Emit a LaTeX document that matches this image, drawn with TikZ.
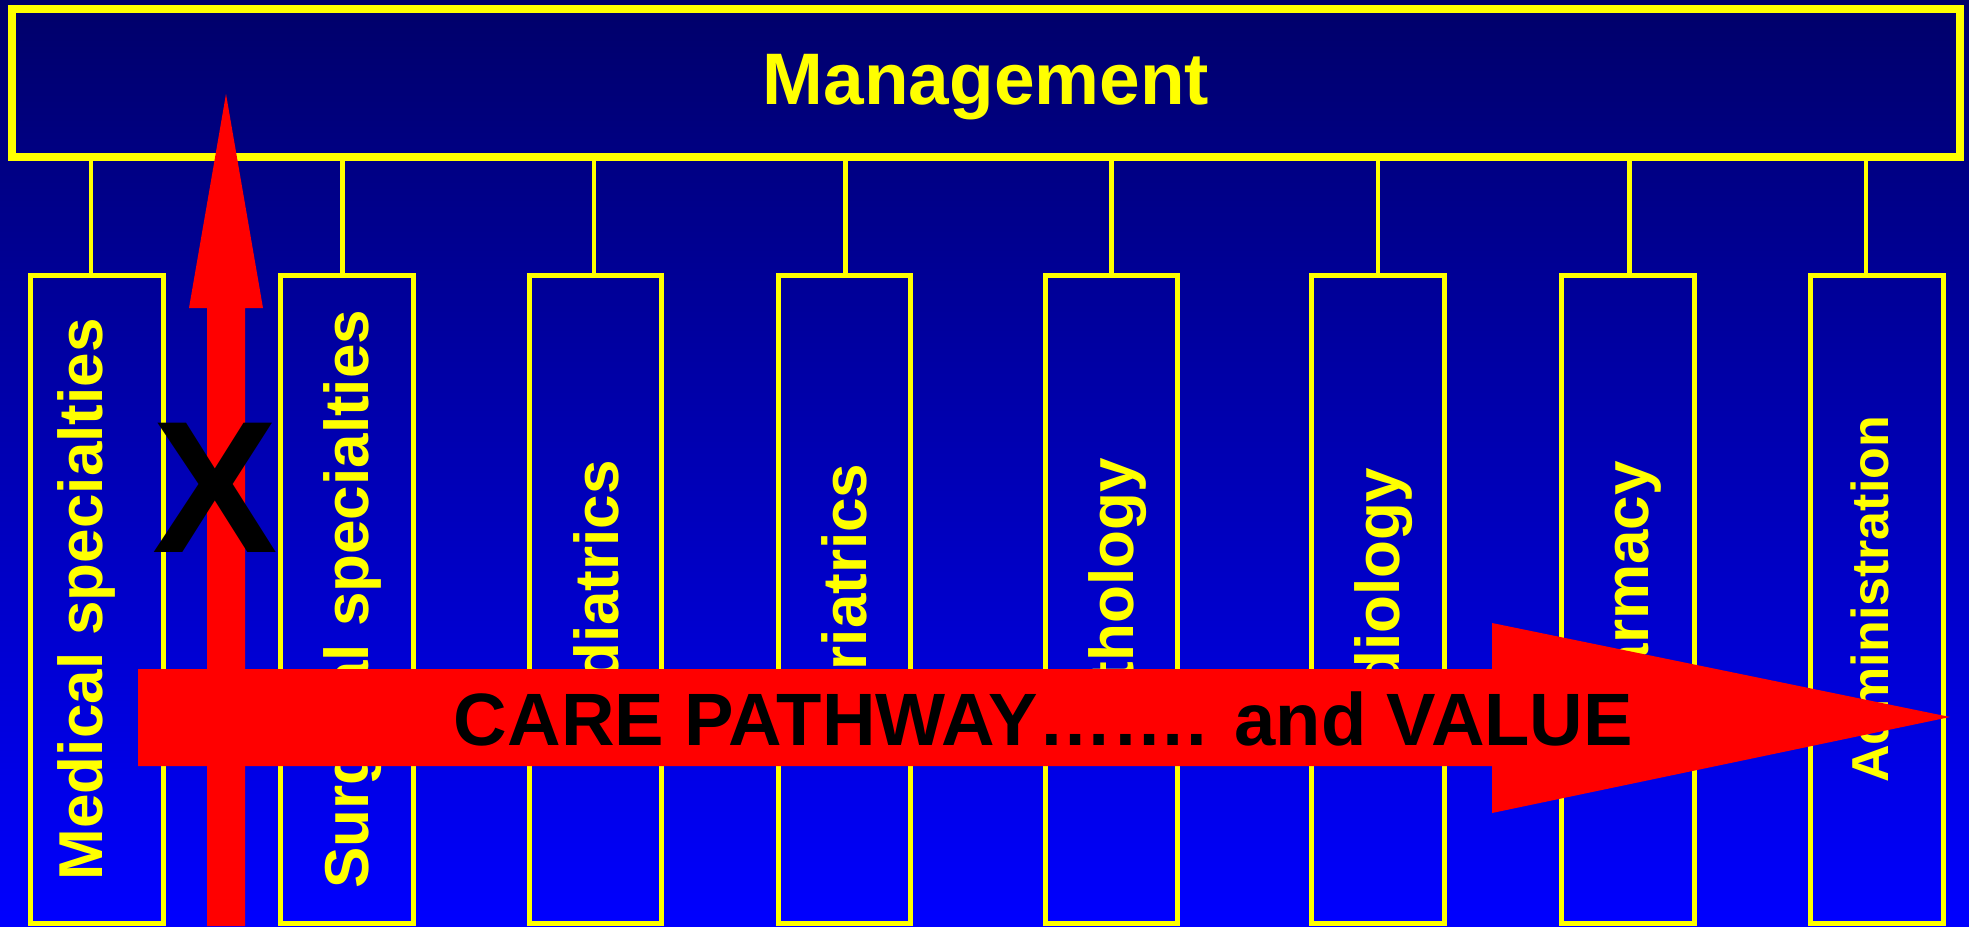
\documentclass[tikz,border=0pt]{standalone}
\usepackage{fontspec}
\setmainfont{Liberation Sans}
\usepackage{tikz}
\usepackage{xcolor}
\usetikzlibrary{positioning}
\definecolor{navytop}{RGB}{0,0,105}
\definecolor{bluebottom}{RGB}{0,0,255}
\definecolor{linkyellow}{RGB}{255,255,0}
\definecolor{pathred}{RGB}{255,0,0}
\tikzstyle{mgmt} = [rectangle, draw=linkyellow, line width=7.5pt, outer sep=0pt, minimum width=1948pt, minimum height=148pt, text depth=7pt, text=linkyellow, font=\fontsize{73}{73}\selectfont\bfseries]
\tikzstyle{deptbox} = [rectangle, draw=linkyellow, line width=5pt, outer sep=0pt, minimum width=132.5pt, minimum height=647.5pt]
\tikzstyle{dept} = [rotate=90, anchor=base, inner sep=0pt, text=linkyellow, font=\fontsize{62}{62}\selectfont\bfseries]
\tikzstyle{link} = [draw=linkyellow, line width=4.5pt]
\tikzstyle{bigarrow} = [fill=pathred]

\begin{document}
\begin{tikzpicture}[x=1pt, y=-1pt, node distance=117pt]

% Background
\shade[top color=navytop, bottom color=bluebottom] (0,0) rectangle (1969,926);
\useasboundingbox (0,0) rectangle (1969,926);

% Management - top
\node (mgmt) [mgmt] at (986,83) {Management};

% Departments - bottom row
\node (med) [deptbox] at (96.75,599.25) {};
\node (surg) [deptbox, right=117.5pt of med] {};
\node (paed) [deptbox, right=116pt of surg] {};
\node (geri) [deptbox, right=116.5pt of paed] {};
\node (path) [deptbox, right=134.5pt of geri] {};
\node (radi) [deptbox, right=134pt of path] {};
\node (pharm) [deptbox, right=117.5pt of radi] {};
\node (admin) [deptbox, right=116.5pt of pharm] {};

% Links up to management
\draw [link] ([xshift=-5.75pt]med.north) -- ([xshift=-5.75pt]med.north |- mgmt.south);
\draw [link] ([xshift=-4.25pt]surg.north) -- ([xshift=-4.25pt]surg.north |- mgmt.south);
\draw [link] ([xshift=-1.25pt]paed.north) -- ([xshift=-1.25pt]paed.north |- mgmt.south);
\draw [link] ([xshift=1.25pt]geri.north) -- ([xshift=1.25pt]geri.north |- mgmt.south);
\draw [link] (path.north) -- (path.north |- mgmt.south);
\draw [link] (radi.north) -- (radi.north |- mgmt.south);
\draw [link] ([xshift=1.75pt]pharm.north) -- ([xshift=1.75pt]pharm.north |- mgmt.south);
\draw [link] ([xshift=-10.75pt]admin.north) -- ([xshift=-10.75pt]admin.north |- mgmt.south);

% Department names
\node (medtxt) [dept] at ([xshift=72pt]med.west) {Medical specialties};
\node (surgtxt) [dept] at ([xshift=88pt]surg.west) {Surgical specialties};
\node (paedtxt) [dept] at ([xshift=89pt, yshift=-9pt]paed.west) {Pediatrics};
\node (geritxt) [dept] at ([xshift=88pt, yshift=-9pt]geri.west) {Geriatrics};
\node (pathtxt) [dept] at ([xshift=88pt, yshift=-9pt]path.west) {Pathology};
\node (raditxt) [dept] at ([xshift=88pt, yshift=-19pt]radi.west) {Radiology};
\node (pharmtxt) [dept] at ([xshift=87pt, yshift=-10pt]pharm.west) {Pharmacy};
\node (admintxt) [dept, font=\fontsize{52}{52}\selectfont\bfseries] at ([xshift=78pt]admin.west) {Administration};

% Vertical arrow (blocked)
\fill [bigarrow] (207,926) -- (207,308) -- (189,308) -- (226,94) -- (263,308) -- (245,308) -- (245,926) -- cycle;

% Care pathway arrow
\fill [bigarrow] (138,669) -- (1492,669) -- (1492,623) -- (1950,717) -- (1492,813) -- (1492,766) -- (138,766) -- cycle;
\node (carepath) [anchor=base, font=\fontsize{74.2}{75}\selectfont\bfseries] at (1043.5,745) {CARE PATHWAY……. and VALUE};

% Cross over the vertical arrow
\node (cross) [anchor=base, inner sep=0pt, font=\fontsize{188}{188}\selectfont\bfseries] at (215.5,552) {X};

\end{tikzpicture}
\end{document}
